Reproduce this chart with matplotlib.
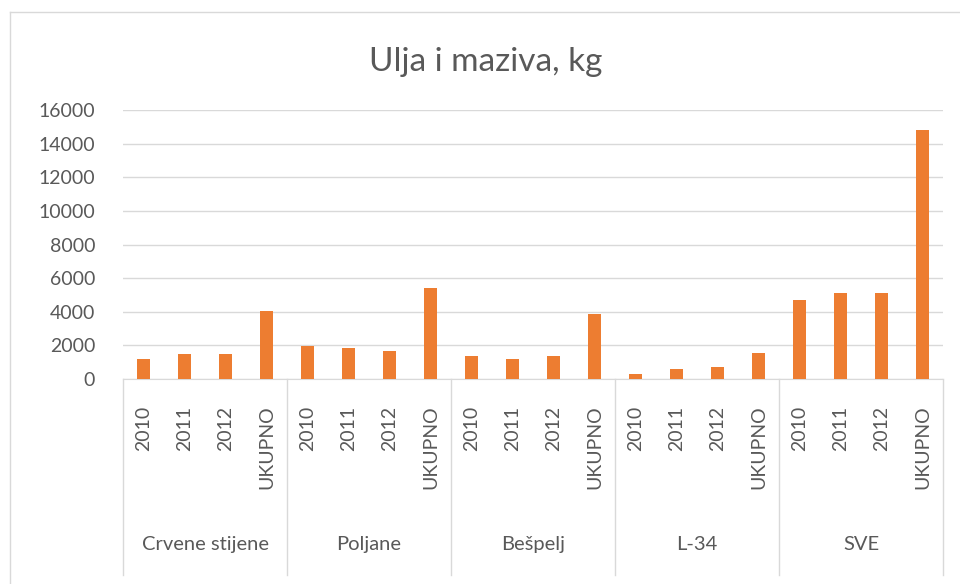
import matplotlib.pyplot as plt
import numpy as np

# data
groups = ['Crvene stijene', 'Poljane', 'Bešpelj', 'L-34', 'SVE']
periods = ['2010', '2011', '2012', 'UKUPNO']
crvene = [1190, 1460, 1460, 4050]
poljane = [1980, 1850, 1690, 5400]
bespelj = [1390, 1190, 1370, 3870]
l34 = [310, 610, 710, 1550]
sve = [4720, 5140, 5140, 14840]

values = crvene + poljane + bespelj + l34 + sve
labels = periods * len(groups)

plt.rcParams['font.family'] = ['Lato', 'DejaVu Sans']
txt_col = '#595959'
grid_col = '#D9D9D9'

fig = plt.figure(figsize=(9.6, 5.84), dpi=100)
W, H = 960, 584
ax = fig.add_axes([123 / W, (H - 379) / H, (943 - 123) / W, (379 - 110) / H])

x = np.arange(len(values))
ax.bar(x, values, width=0.31, color='#ED7D31', zorder=3)

ax.set_xlim(-0.5, len(values) - 0.5)
ax.set_ylim(0, 16000)
ax.set_yticks(np.arange(0, 16001, 2000))
ax.yaxis.grid(True, color=grid_col, lw=1)
ax.set_axisbelow(True)
for s in ['top', 'right', 'left']:
    ax.spines[s].set_visible(False)
ax.spines['bottom'].set_color(grid_col)
ax.tick_params(axis='y', length=0, pad=20, labelsize=14, labelcolor=txt_col)
ax.set_xticks(x)
ax.set_xticklabels(labels, rotation=90, va='top', ha='center')
ax.tick_params(axis='x', length=0, pad=19, labelsize=14, labelcolor=txt_col)

# group separators and group names under the axis
tr = ax.get_xaxis_transform()
n = len(periods)
for i in range(len(groups) + 1):
    ax.plot([i * n - 0.5] * 2, [0, -0.729], transform=tr, color=grid_col, lw=1, clip_on=False)
for i, g in enumerate(groups):
    ax.text(i * n + (n - 1) / 2, -0.617, g, transform=tr, ha='center', va='center',
            fontsize=14.5, color=txt_col)

fig.text(486 / W, 1 - 62 / H, 'Ulja i maziva, kg', ha='center', va='center',
         fontsize=24, color=txt_col)

# chart frame (left and top edges visible)
fig.add_artist(plt.Line2D([10 / W, 10 / W], [0, 1 - 12 / H], color=grid_col, lw=1))
fig.add_artist(plt.Line2D([10 / W, 1], [1 - 12 / H, 1 - 12 / H], color=grid_col, lw=1))

fig.savefig('out.png', dpi=100)
